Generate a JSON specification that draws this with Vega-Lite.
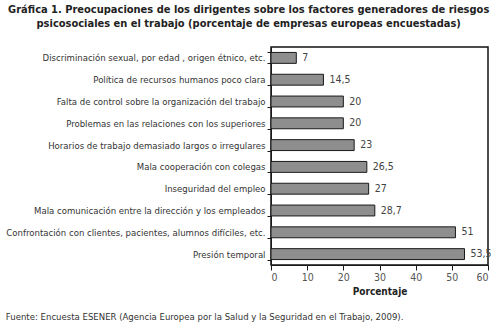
{
  "$schema": "https://vega.github.io/schema/vega-lite/v6.json",
  "background": "white",
  "padding": {"left": 5, "top": 4, "right": 6, "bottom": 4},
  "title": {
    "text": [
      "Gráfica 1. Preocupaciones de los dirigentes sobre los factores generadores de riesgos",
      "psicosociales en el trabajo (porcentaje de empresas europeas encuestadas)"
    ],
    "anchor": "middle",
    "frame": "bounds",
    "font": "Liberation Sans Narrow, DejaVu Sans Condensed, Roboto Condensed, Liberation Sans",
    "fontSize": 11,
    "fontWeight": "bold",
    "color": "#222222",
    "lineHeight": 14,
    "offset": 12
  },
  "config": {
    "locale": {"number": {"decimal": ",", "thousands": ".", "grouping": [3], "currency": ["", " €"]}},
    "font": "Liberation Sans Narrow, DejaVu Sans Condensed, Roboto Condensed, Liberation Sans",
    "view": {"stroke": "#111111", "strokeWidth": 1.5},
    "axis": {"grid": false, "domainColor": "#1a1a1a", "tickColor": "#1a1a1a"}
  },
  "vconcat": [
    {
      "width": 217,
      "height": 218,
      "title": {
        "text": "Fuente: Encuesta ESENER (Agencia Europea por la Salud y la Seguridad en el Trabajo, 2009).",
        "orient": "bottom",
        "anchor": "start",
        "frame": "bounds",
        "fontSize": 9.5,
        "fontWeight": "normal",
        "color": "#333333",
        "offset": 15
      },
      "data": {
        "values": [
          {"factor": "Discriminación sexual, por edad , origen étnico, etc.", "valor": 7},
          {"factor": "Política de recursos humanos poco clara", "valor": 14.5},
          {"factor": "Falta de control sobre la organización del trabajo", "valor": 20},
          {"factor": "Problemas en las relaciones con los superiores", "valor": 20},
          {"factor": "Horarios de trabajo demasiado largos o irregulares", "valor": 23},
          {"factor": "Mala cooperación con colegas", "valor": 26.5},
          {"factor": "Inseguridad del empleo", "valor": 27},
          {"factor": "Mala comunicación entre la dirección y los empleados", "valor": 28.7},
          {"factor": "Confrontación con clientes, pacientes, alumnos difíciles, etc.", "valor": 51},
          {"factor": "Presión temporal", "valor": 53.5}
        ]
      },
      "encoding": {
        "y": {
          "field": "factor",
          "type": "nominal",
          "sort": null,
          "scale": {"paddingInner": 0.5, "paddingOuter": 0.25},
          "axis": {
            "title": null,
            "labelFontSize": 9.5,
            "labelColor": "#333333",
            "labelLimit": 400,
            "labelPadding": 2,
            "tickBand": "extent",
            "tickSize": 4
          }
        },
        "x": {
          "field": "valor",
          "type": "quantitative",
          "scale": {"domain": [0, 60]},
          "axis": {
            "values": [0, 10, 20, 30, 40, 50, 60],
            "title": "Porcentaje",
            "titleFontSize": 10,
            "titleFontWeight": "bold",
            "titleColor": "#222222",
            "titlePadding": 4,
            "labelFontSize": 10.5,
            "labelColor": "#555555",
            "labelPadding": 2,
            "tickSize": 5
          }
        }
      },
      "layer": [
        {
          "mark": {"type": "bar", "color": "#8e8e8e", "stroke": "#1a1a1a", "strokeWidth": 1}
        },
        {
          "mark": {"type": "text", "align": "left", "dx": 6, "fontSize": 10.5, "color": "#444444"},
          "encoding": {"text": {"field": "valor", "type": "quantitative", "format": ".1~f"}}
        }
      ]
    }
  ]
}
